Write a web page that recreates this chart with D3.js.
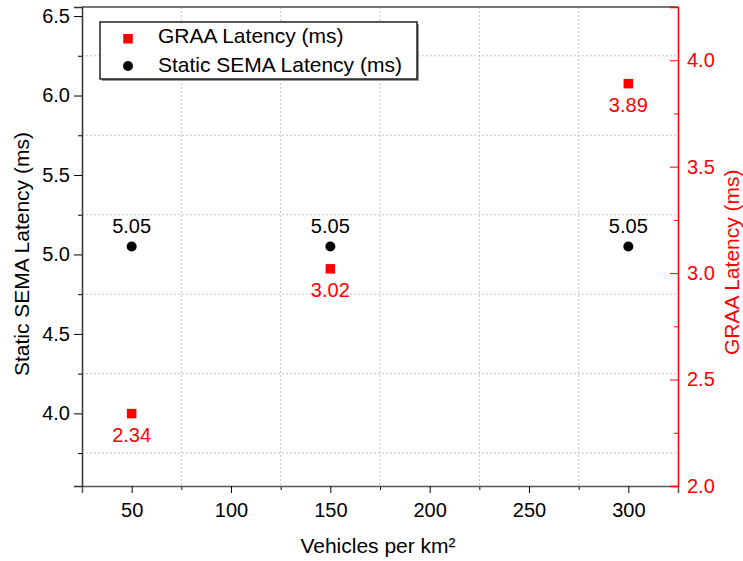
<!DOCTYPE html>
<html>
<head>
<meta charset="utf-8">
<script src="https://cdn.jsdelivr.net/npm/d3@7"></script>
<style>
  body { margin: 0; background: #fff; }
  svg { font-family: "Liberation Sans", Arial, Helvetica, sans-serif; }
</style>
</head>
<body>
<figure id="chart" style="margin:0"></figure>
<script>
// data
const vehicles = [50, 150, 300];
const semaLatency = [5.05, 5.05, 5.05];
const graaLatency = [2.34, 3.02, 3.89];
const xTicks = [50, 100, 150, 200, 250, 300];
const leftTicks = [4.0, 4.5, 5.0, 5.5, 6.0, 6.5];
const rightTicks = [2.0, 2.5, 3.0, 3.5, 4.0];
const seriesNames = ["GRAA Latency (ms)", "Static SEMA Latency (ms)"];

const width = 743, height = 561;
const plotLeft = 82, plotRight = 678, plotTop = 7, plotBottom = 486;

const svg = d3.select("figure#chart")
  .append("svg")
  .attr("width", width)
  .attr("height", height);

const x = d3.scaleLinear().domain([25, 325]).range([plotLeft, plotRight]);
const yL = d3.scaleLinear().domain([3.543, 6.557]).range([plotBottom, plotTop]);
const yR = d3.scaleLinear().domain([2.0, 4.25]).range([plotBottom, plotTop]);

const minorX = d3.range(25, 326, 50);
const minorL = d3.range(3.75, 6.5, 0.5);
const minorR = d3.range(2.25, 4.26, 0.5);

// grid lines (on the minor ticks)
const grid = svg.append("g")
  .attr("stroke", "#c4c4c4")
  .attr("stroke-dasharray", "2,2")
  .attr("stroke-width", 1);
grid.selectAll("line.v")
  .data(minorX.filter(d => d > 25 && d < 325))
  .enter().append("line")
  .attr("x1", d => x(d)).attr("x2", d => x(d))
  .attr("y1", plotTop).attr("y2", plotBottom);
grid.selectAll("line.h")
  .data(minorL)
  .enter().append("line")
  .attr("x1", plotLeft).attr("x2", plotRight)
  .attr("y1", d => yL(d)).attr("y2", d => yL(d));

// top frame
svg.append("line")
  .attr("x1", plotLeft).attr("x2", plotRight)
  .attr("y1", plotTop).attr("y2", plotTop)
  .attr("stroke", "#777").attr("stroke-width", 2);

// bottom axis
const gx = svg.append("g")
  .attr("transform", "translate(0," + plotBottom + ")");
gx.call(d3.axisBottom(x).tickValues(minorX).tickSize(4).tickFormat(""))
  .call(g => g.select(".domain").remove());
gx.append("g")
  .call(d3.axisBottom(x).tickValues(xTicks).tickSize(7).tickPadding(10).tickFormat(d3.format("d")))
  .attr("font-family", null).attr("font-size", 20)
  .call(g => g.select(".domain").attr("stroke", "#555").attr("stroke-width", 1.5))
  .call(g => g.selectAll("text").attr("fill", "#000"));

// left axis
const gl = svg.append("g")
  .attr("transform", "translate(" + plotLeft + ",0)");
gl.call(d3.axisLeft(yL).tickValues(minorL).tickSize(4).tickFormat(""))
  .call(g => g.select(".domain").remove());
gl.append("g")
  .call(d3.axisLeft(yL).tickValues(leftTicks).tickSize(8).tickPadding(4).tickFormat(d3.format(".1f")))
  .attr("font-family", null).attr("font-size", 20)
  .call(g => g.select(".domain").attr("stroke", "#333").attr("stroke-width", 1.5))
  .call(g => g.selectAll("text").attr("fill", "#000"));

// right axis (ticks inward)
const gr = svg.append("g")
  .attr("transform", "translate(" + plotRight + ",0)");
gr.call(d3.axisLeft(yR).tickValues(minorR).tickSize(4).tickFormat(""))
  .call(g => g.select(".domain").remove())
  .call(g => g.selectAll("line").attr("stroke", "red"));
gr.append("g")
  .call(d3.axisRight(yR).tickValues(rightTicks).tickSize(-8).tickPadding(9).tickFormat(d3.format(".1f")))
  .attr("font-family", null).attr("font-size", 20)
  .call(g => g.select(".domain").attr("stroke", "red").attr("stroke-width", 1.5))
  .call(g => g.selectAll("line").attr("stroke", "red"))
  .call(g => g.selectAll("text").attr("fill", "red"));

// axis titles
svg.append("text")
  .attr("x", 378).attr("y", 553)
  .attr("text-anchor", "middle").attr("font-size", 21)
  .text("Vehicles per km²");
svg.append("text")
  .attr("transform", "translate(29,376) rotate(-90)")
  .attr("text-anchor", "start").attr("font-size", 21)
  .text("Static SEMA Latency (ms)");
svg.append("text")
  .attr("transform", "translate(739,355) rotate(-90)")
  .attr("text-anchor", "start").attr("font-size", 21).attr("fill", "red")
  .text("GRAA Latency (ms)");

// SEMA points
const sema = vehicles.map((v, i) => ({ x: v, y: semaLatency[i] }));
svg.selectAll("circle.sema")
  .data(sema)
  .enter().append("circle")
  .attr("cx", d => x(d.x)).attr("cy", d => yL(d.y))
  .attr("r", 5).attr("fill", "#000");
svg.selectAll("text.sema")
  .data(sema)
  .enter().append("text")
  .attr("x", d => x(d.x)).attr("y", d => yL(d.y) - 13.5)
  .attr("text-anchor", "middle").attr("font-size", 20)
  .text(d => d3.format(".2f")(d.y));

// GRAA points
const graa = vehicles.map((v, i) => ({ x: v, y: graaLatency[i] }));
svg.selectAll("rect.graa")
  .data(graa)
  .enter().append("rect")
  .attr("x", d => x(d.x) - 4.75).attr("y", d => yR(d.y) - 4.75)
  .attr("width", 9.5).attr("height", 9.5).attr("fill", "red");
svg.selectAll("text.graa")
  .data(graa)
  .enter().append("text")
  .attr("x", d => x(d.x)).attr("y", d => yR(d.y) + 28.5)
  .attr("text-anchor", "middle").attr("font-size", 20).attr("fill", "red")
  .text(d => d3.format(".2f")(d.y));

// legend
const lg = svg.append("g").attr("transform", "translate(100,22)");
lg.append("rect")
  .attr("x", 2).attr("y", 2).attr("width", 317).attr("height", 57)
  .attr("fill", "#999");
lg.append("rect")
  .attr("width", 317).attr("height", 57)
  .attr("fill", "#fff").attr("stroke", "#000").attr("stroke-width", 1.3);
lg.append("rect")
  .attr("x", 23.25).attr("y", 12).attr("width", 9.5).attr("height", 9.5).attr("fill", "red");
lg.append("circle")
  .attr("cx", 28).attr("cy", 44).attr("r", 5).attr("fill", "#000");
lg.selectAll("text.item")
  .data(seriesNames)
  .enter().append("text")
  .attr("x", 58).attr("y", (d, i) => 21 + i * 29)
  .attr("font-size", 21)
  .text(d => d);
</script>
</body>
</html>
